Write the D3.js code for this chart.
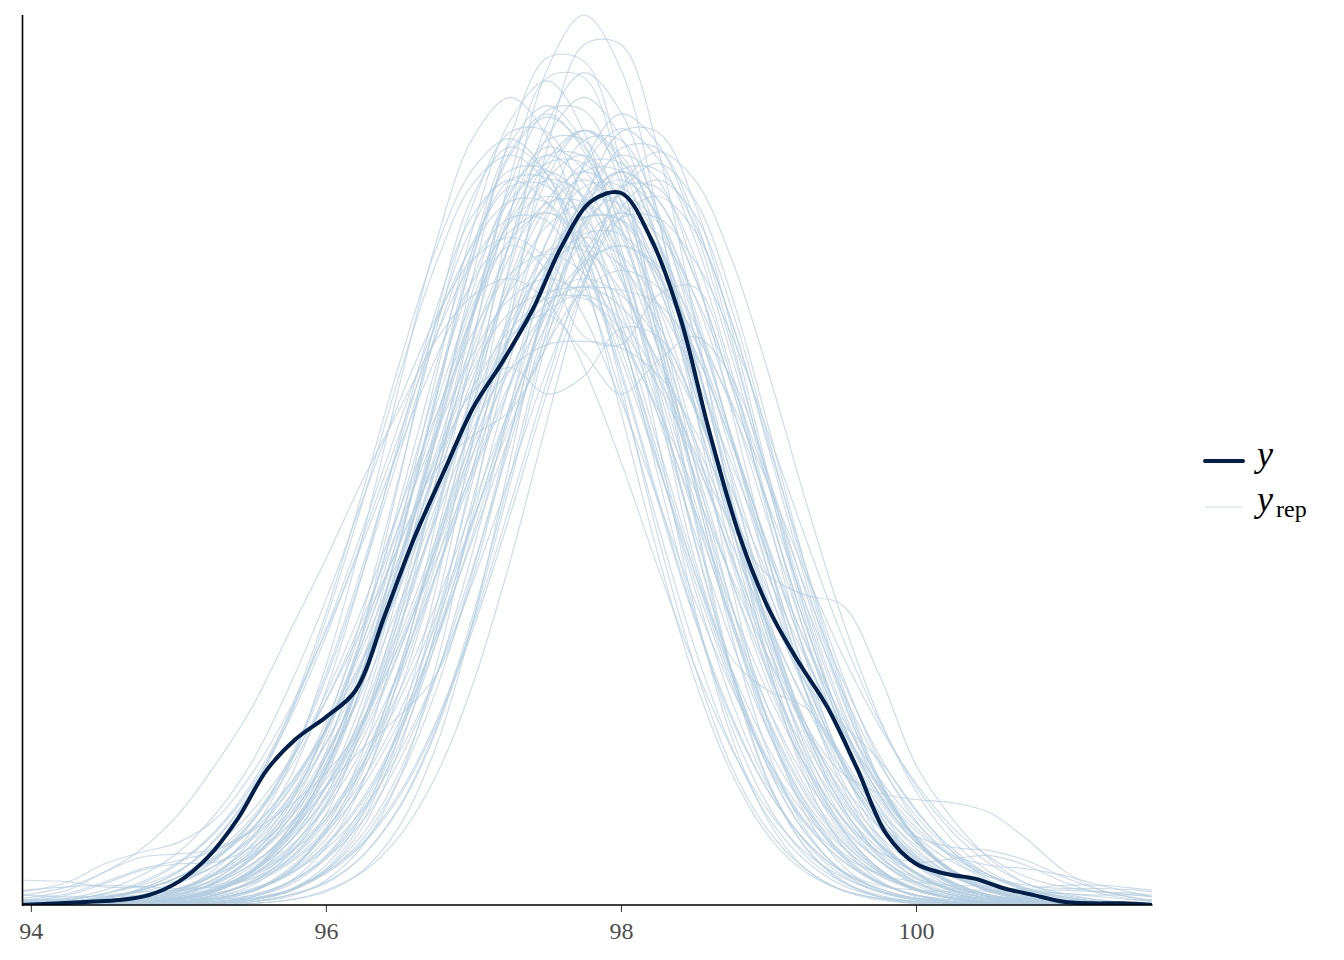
<!DOCTYPE html>
<html><head><meta charset="utf-8">
<script src="https://cdn.jsdelivr.net/npm/d3@7"></script>
<style>body{margin:0;background:#fff}svg{display:block}</style>
</head><body><svg id="chart" width="1344" height="960"></svg>
<script>
// ---- data (densities x 1000) ----
const xTicks = [94, 96, 98, 100];
const yGridX = [93.94,94.2,94.4,94.6,94.8,95.0,95.2,95.4,95.6,95.8,96.0,96.2,96.4,96.6,96.8,97.0,97.2,97.4,97.6,97.8,98.0,98.2,98.4,98.6,98.8,99.0,99.2,99.4,99.6,99.8,100.0,100.2,100.4,100.6,100.8,101.0,101.2,101.4,101.6];
const yDensity = [0,1,2,3,6,14,29,52,82,101,114,130,176,223,263,302,330,361,400,427,432,405,357,287,225,180,148,120,83,43,25,19,16,10,6,2,1,1,0];
const repGridX = [93.94,94.25,94.5,94.75,95.0,95.25,95.5,95.75,96.0,96.25,96.5,96.75,97.0,97.25,97.5,97.75,98.0,98.25,98.5,98.75,99.0,99.25,99.5,99.75,100.0,100.25,100.5,100.75,101.0,101.25,101.5,101.6];
const yrepDensities = [
[0,0,0,0,0,1,3,9,24,55,110,194,304,419,507,540,507,419,304,194,110,55,24,9,3,1,0,0,0,0,0,0],
[0,0,0,0,0,0,2,5,15,36,77,146,243,356,459,522,522,459,356,243,146,77,36,15,5,2,0,0,0,0,0,0],
[0,0,0,1,2,6,14,31,62,111,182,268,360,437,482,482,437,360,268,182,111,62,31,14,6,2,1,0,0,0,0,0],
[0,0,0,1,4,9,21,43,82,141,219,308,393,455,478,460,410,338,258,182,119,72,41,21,10,4,2,1,0,0,0,0],
[0,0,1,2,4,10,21,40,71,117,179,253,332,403,452,470,447,387,303,215,139,81,43,21,9,4,1,0,0,0,0,0],
[0,0,0,0,0,1,4,9,21,43,81,139,216,303,388,448,471,453,404,333,254,179,117,71,40,21,10,4,2,1,0,0],
[1,2,4,10,20,39,69,113,173,245,322,390,438,455,438,390,322,245,173,113,69,39,20,10,4,2,1,0,0,0,0,0],
[0,0,0,0,0,0,1,3,9,20,42,79,135,209,294,376,435,457,440,392,323,246,174,114,69,39,20,10,4,2,1,0],
[0,0,0,1,1,3,8,20,45,85,145,220,295,345,358,335,310,330,345,320,260,190,125,75,40,20,9,4,2,1,0,0],
[0,0,0,1,2,5,12,28,55,110,175,235,290,325,340,342,338,322,288,240,190,135,88,52,26,12,5,2,1,0,0,0],
[0,0,1,2,5,10,20,38,65,105,155,215,275,325,360,370,355,320,275,230,200,188,182,140,85,52,28,13,6,3,1,1],
[0,0,0,0,1,2,5,12,28,55,98,160,237,317,385,425,425,385,317,237,165,110,80,68,64,62,56,40,21,9,4,3],
[6,11,20,34,55,85,120,165,210,258,301,343,370,380,366,326,269,205,145,95,57,32,17,8,4,2,1,0,0,0,0,0],
[0,1,2,4,8,15,28,48,72,95,115,140,200,285,370,430,455,440,385,300,210,130,72,36,16,7,3,1,0,0,0,0],
[15,14,11,11,15,24,40,63,105,160,226,297,360,404,420,404,360,297,226,160,105,63,36,18,9,4,2,1,0,0,0,0],
[4,9,20,29,31,34,45,60,80,110,168,237,311,377,423,440,423,377,311,237,168,110,66,37,19,9,4,2,1,0,0,0],
[2,6,13,21,25,26,35,52,84,134,197,268,338,394,426,426,394,338,268,197,134,84,49,27,13,6,3,1,0,0,0,0],
[0,0,0,1,2,4,9,19,37,65,107,164,232,304,369,414,430,414,369,304,232,164,107,68,42,26,17,12,10,10,9,8],
[0,0,0,0,1,2,5,13,29,57,103,167,248,332,403,445,445,403,332,248,167,103,57,29,16,10,9,10,12,12,10,9],
[0,0,0,1,3,9,20,41,78,134,208,293,374,433,455,438,390,322,245,173,113,69,39,20,10,4,2,1,0,0,0,0],
[0,0,1,2,4,9,20,38,67,111,170,240,315,381,428,445,428,381,315,240,170,111,67,38,20,9,4,2,1,0,0,0],
[0,0,1,2,4,9,18,32,54,86,130,183,243,302,353,388,400,388,353,302,243,183,130,86,54,32,18,9,4,2,1,0],
[0,1,3,6,14,27,50,86,137,202,274,346,403,436,436,403,346,274,202,137,86,50,27,14,6,3,1,0,0,0,0,0],
[0,0,0,0,0,1,2,6,13,30,59,106,173,256,343,417,459,459,417,343,256,173,106,59,30,13,6,2,1,0,0,0],
[1,1,3,6,13,24,42,69,107,156,212,273,329,373,397,397,373,329,273,212,156,107,69,42,24,13,6,3,1,1,0,0],
[0,0,0,1,3,6,14,27,50,86,137,202,274,346,403,436,436,403,346,274,202,137,86,50,27,14,6,3,1,0,0,0],
[0,0,1,3,8,19,40,76,130,202,283,362,419,440,426,388,332,267,202,143,95,59,35,19,10,5,2,1,0,0,0,0],
[0,0,0,1,2,5,10,19,34,58,93,140,197,261,325,379,417,430,409,354,277,197,127,74,39,19,8,3,1,0,0,0],
[1,2,4,9,17,32,53,85,128,181,240,298,348,383,395,383,348,298,240,181,128,85,53,32,17,9,4,2,1,0,0,0],
[0,0,0,0,1,4,9,22,45,84,145,224,316,403,466,490,466,403,316,224,145,84,45,22,9,4,1,0,0,0,0,0],
[0,0,0,0,1,2,6,14,30,60,107,175,259,346,421,464,464,421,346,259,175,107,60,30,14,6,2,1,0,0,0,0],
[1,3,7,13,25,44,72,112,163,223,286,346,391,417,415,376,310,231,156,96,53,27,12,5,2,1,0,0,0,0,0,0],
[0,0,0,1,2,4,9,18,36,63,105,160,226,297,360,404,420,407,370,317,255,192,137,91,57,34,18,10,5,2,1,1],
[0,0,0,1,2,6,14,30,60,107,175,259,346,421,464,464,421,346,259,175,107,60,30,14,6,2,1,0,0,0,0,0],
[0,0,0,1,3,8,20,47,93,166,259,357,431,460,443,394,325,248,175,115,69,39,20,10,4,2,1,0,0,0,0,0],
[0,0,0,1,3,7,14,26,46,76,117,171,234,300,362,410,436,435,394,324,242,164,100,56,28,13,5,2,1,0,0,0],
[0,0,0,1,3,8,18,38,72,125,200,290,365,400,385,345,340,370,375,320,235,150,85,42,19,8,3,1,0,0,0,0],
[0,0,1,3,7,16,33,62,105,160,220,265,285,300,340,395,420,400,335,245,160,92,47,22,9,4,1,0,0,0,0,0],
[0,0,0,1,3,8,20,42,80,135,205,285,360,415,440,430,385,305,210,150,130,120,90,55,28,12,5,2,1,0,0,0],
[0,0,0,0,1,3,8,20,47,93,166,259,357,431,460,446,406,347,279,211,150,99,62,37,20,11,5,2,1,0,0,0],
[0,1,2,5,10,20,36,61,98,148,208,276,344,401,441,455,427,353,256,164,92,46,20,8,3,1,0,0,0,0,0,0],
[3,3,2,2,4,9,21,44,83,142,220,309,395,457,480,457,395,309,220,142,83,44,21,9,4,1,0,0,0,0,0,0],
[0,0,0,0,0,1,3,8,20,40,77,131,204,287,366,424,445,428,381,315,240,170,111,67,38,20,12,8,7,6,6,5],
[6,5,5,6,9,18,32,54,86,130,183,243,302,353,388,400,388,353,302,243,183,130,86,54,32,18,9,4,2,1,0,0],
[0,0,1,3,6,14,28,52,89,142,208,283,358,417,450,450,417,358,283,208,142,89,52,32,26,28,30,24,14,7,3,2],
[1,2,5,9,17,29,47,73,107,150,199,252,301,343,370,380,370,343,301,252,199,150,107,73,47,29,17,9,5,2,1,1],
[0,0,0,1,4,10,22,46,86,148,229,322,412,476,500,469,388,282,180,102,51,22,9,3,1,0,0,0,0,0,0,0],
[0,0,0,1,3,7,13,25,44,72,112,163,223,286,346,391,417,417,391,346,286,223,163,112,72,44,25,13,7,3,1,1],
[0,0,1,2,6,14,30,60,108,177,261,350,426,469,469,426,350,261,177,108,60,30,14,6,2,1,0,0,0,0,0,0],
[0,0,0,0,1,3,6,14,28,51,88,140,206,280,354,413,446,446,413,354,280,206,140,88,51,28,14,6,3,1,0,0],
[8,14,25,32,38,52,80,118,166,220,278,333,379,409,420,400,346,270,192,124,72,38,18,8,3,1,0,0,0,0,0,0],
[0,0,0,0,0,1,3,8,21,47,95,169,265,364,441,470,455,415,355,285,215,153,102,63,38,21,11,5,2,1,0,0],
[1,2,4,10,20,40,70,116,177,251,329,399,447,465,443,383,299,213,137,80,42,20,9,4,1,0,0,0,0,0,0,0],
[0,0,0,0,1,2,4,9,20,38,68,112,171,243,318,386,433,450,428,370,290,206,133,77,41,20,9,3,1,0,0,0],
[2,3,7,12,21,36,57,87,124,169,219,270,315,349,368,368,349,315,270,219,169,124,87,57,36,21,12,7,3,2,1,1],
[0,0,1,3,7,13,25,43,71,109,159,218,280,337,382,407,407,382,337,280,218,159,109,71,45,30,24,22,18,12,7,5],
[3,7,14,22,27,33,45,70,111,170,240,315,381,428,445,428,381,315,240,170,111,67,38,20,9,4,2,1,0,0,0,0],
[0,0,1,2,4,9,17,31,52,83,125,176,234,291,340,373,385,375,347,305,255,202,152,109,74,47,29,17,11,8,6,5],
[1,3,7,14,26,45,74,115,167,228,293,354,401,427,426,394,338,268,197,134,84,49,27,13,6,3,1,0,0,0,0,0],
[0,0,0,0,1,4,9,21,43,81,139,215,303,387,447,470,452,403,332,255,185,135,110,88,58,32,15,7,3,1,0,0],
[0,0,0,0,1,2,5,14,35,74,140,234,342,442,502,502,442,342,234,140,74,35,14,5,2,1,0,0,0,0,0,0],
[0,0,0,0,0,0,1,3,8,21,48,97,173,270,372,450,480,462,411,339,259,183,120,72,41,21,10,5,2,1,0,0],
[0,1,2,4,8,16,31,55,90,139,200,264,312,326,310,321,350,345,304,238,167,106,60,31,14,6,3,1,0,0,0,0],
[0,1,2,5,10,19,34,57,92,138,195,258,321,375,412,425,409,364,300,229,162,106,64,36,19,9,4,2,1,0,0,0],
[2,4,9,18,32,55,87,132,185,246,306,357,392,405,392,357,306,246,185,132,87,55,32,18,9,4,2,1,0,0,0,0],
[0,0,0,0,1,2,4,9,19,37,66,110,168,237,311,377,423,440,419,362,283,202,130,76,40,19,8,3,1,0,0,0],
[0,0,0,1,4,9,21,44,83,143,222,312,399,462,485,462,399,312,222,143,83,44,21,12,9,8,8,9,9,8,7,6],
[1,2,4,8,14,24,41,65,98,141,192,249,306,357,396,417,415,376,310,231,156,96,53,27,12,5,2,1,0,0,0,0],
[0,1,2,4,9,19,37,65,107,164,232,304,369,414,430,417,379,325,261,197,140,93,58,34,19,10,5,2,1,0,0,0],
[0,0,1,2,5,11,24,46,82,135,200,268,325,360,372,375,373,365,335,280,210,140,85,47,24,11,5,2,1,0,0,0],
[0,0,0,0,0,1,3,9,22,51,103,182,284,391,474,505,481,416,325,231,149,87,46,22,10,4,1,0,0,0,0,0],
[3,4,6,8,9,12,19,35,59,95,143,202,267,332,388,426,440,419,362,283,202,130,76,40,19,8,3,1,0,0,0,0],
[0,0,1,2,5,13,28,57,101,166,245,328,399,440,441,415,366,303,236,173,119,77,47,27,14,7,3,2,1,0,0,0],
[0,0,0,0,0,1,2,6,14,30,60,108,177,261,350,426,469,469,426,350,261,177,110,65,42,35,33,27,17,9,4,3],
[0,0,1,3,6,14,29,52,90,143,211,287,362,422,455,454,412,339,253,171,105,58,29,13,6,2,1,0,0,0,0,0],
[1,2,5,9,17,28,46,72,106,148,197,248,297,338,365,375,363,331,283,228,172,122,81,51,30,17,9,4,2,1,0,0],
[0,0,1,4,9,22,45,84,145,224,316,403,466,490,466,403,316,224,145,84,45,22,9,4,1,0,0,0,0,0,0,0],
[9,11,12,11,10,11,16,28,52,89,142,208,283,358,417,450,450,417,358,283,208,142,89,52,28,14,6,3,1,0,0,0],
[1,2,4,9,17,30,51,82,124,174,231,287,335,368,380,370,343,301,252,199,150,107,73,47,29,17,9,5,2,1,0,0],
[0,0,0,1,2,4,9,20,40,75,130,200,262,315,381,428,445,428,381,315,240,170,111,67,38,20,9,4,2,1,0,0],
[0,0,1,2,4,9,18,34,61,101,154,218,286,347,390,405,394,365,321,268,212,160,114,77,50,30,18,10,5,2,1,1],
[0,0,0,1,2,6,15,33,66,119,193,286,383,466,514,512,450,349,238,143,75,35,15,5,2,1,0,0,0,0,0,0],
[0,1,2,5,10,18,30,49,76,113,158,210,265,317,361,390,400,385,343,283,216,152,100,60,34,18,8,4,2,1,0,0],
[0,1,3,6,14,28,51,88,140,206,280,354,413,446,446,413,354,280,206,140,88,51,30,19,14,12,11,9,7,5,3,3],
[0,0,1,3,7,13,25,44,72,112,163,223,286,346,391,417,416,385,330,262,192,131,82,48,26,13,6,3,1,0,0,0]
];
const seriesLabels = ["y", "y", "rep"];

// ---- layout ----
const svg = d3.select("#chart");
const x = d3.scaleLinear().domain([93.94, 101.6]).range([22, 1152]);
const y = d3.scaleLinear().domain([0, 540]).range([905, 15]);
const FONT = "'Liberation Serif','Times New Roman',serif";

svg.append("defs").append("clipPath").attr("id", "clip")
  .append("rect").attr("x", 22).attr("y", 0).attr("width", 1130).attr("height", 905);

const g = svg.append("g").attr("clip-path", "url(#clip)");

const repLine = d3.line()
  .x((d, i) => x(repGridX[i]))
  .y(d => y(d))
  .curve(d3.curveCatmullRom.alpha(0.5));

g.selectAll("path.rep").data(yrepDensities).enter().append("path")
  .attr("class", "rep")
  .attr("d", d => repLine(d))
  .attr("fill", "none")
  .attr("stroke", "#b3cde0")
  .attr("stroke-opacity", 0.7)
  .attr("stroke-width", 1.15);

const yLine = d3.line()
  .x((d, i) => x(yGridX[i]))
  .y(d => y(d))
  .curve(d3.curveCatmullRom.alpha(0.5));

g.append("path").datum(yDensity)
  .attr("d", yLine)
  .attr("fill", "none")
  .attr("stroke", "#011f4b")
  .attr("stroke-width", 4)
  .attr("stroke-linejoin", "round");

// axes
const xAxis = d3.axisBottom(x).tickValues(xTicks).tickSize(7).tickFormat(d3.format("d"));
const ax = svg.append("g").attr("transform", "translate(0,905)").call(xAxis)
  .attr("font-family", FONT).attr("font-size", 24);
ax.select(".domain").remove();
ax.selectAll(".tick line").attr("stroke", "#333333").attr("stroke-width", 1);
ax.selectAll(".tick text")
  .attr("y", 34).attr("dy", null)
  .attr("fill", "#4d4d4d")
  .style("font-family", FONT).style("font-size", "24px");

svg.append("line").attr("x1", 22).attr("x2", 1152.5).attr("y1", 905).attr("y2", 905)
  .attr("stroke", "#000").attr("stroke-width", 1.6);
svg.append("line").attr("x1", 22.5).attr("x2", 22.5).attr("y1", 15).attr("y2", 905.8)
  .attr("stroke", "#000").attr("stroke-width", 1.6);

// legend
const lg = svg.append("g");
lg.append("line").attr("x1", 1205).attr("x2", 1243).attr("y1", 461).attr("y2", 461)
  .attr("stroke", "#011f4b").attr("stroke-width", 4).attr("stroke-linecap", "round");
lg.append("line").attr("x1", 1205).attr("x2", 1242).attr("y1", 507).attr("y2", 507)
  .attr("stroke", "#b3cde0").attr("stroke-opacity", 0.7).attr("stroke-width", 1.2);
lg.append("text").attr("x", 1257).attr("y", 466).text(seriesLabels[0])
  .style("font-family", FONT).style("font-style", "italic").style("font-size", "36px").attr("fill", "#000");
const t2 = lg.append("text").attr("x", 1257).attr("y", 511)
  .style("font-family", FONT).attr("fill", "#000");
t2.append("tspan").text(seriesLabels[1]).style("font-style", "italic").style("font-size", "36px");
t2.append("tspan").text(seriesLabels[2]).attr("dx", 3).attr("dy", 6).style("font-size", "24px");
</script></body></html>
